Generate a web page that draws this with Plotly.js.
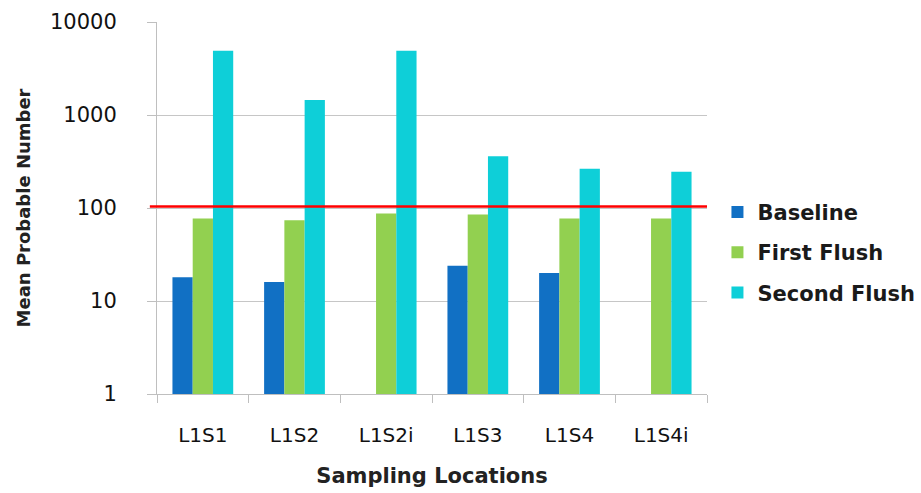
<!DOCTYPE html>
<html>
<head>
<meta charset="utf-8">
<script src="https://cdn.plot.ly/plotly-3.0.1.min.js"></script>
<style>html,body{margin:0;padding:0;background:#fff;}#chart{width:921px;height:493px;}</style>
</head>
<body>
<div id="chart"></div>
<script>
var categories = ["L1S1", "L1S2", "L1S2i", "L1S3", "L1S4", "L1S4i"];
var baseline = [18, 16, null, 24, 20, null];
var firstFlush = [77, 74, 87, 85, 77, 77];
var secondFlush = [4900, 1450, 4900, 360, 265, 245];
var threshold = 104;
var yTickVals = [1, 10, 100, 1000, 10000];
var yTickText = ["1", "10", "100", "1000", "10000"];

var FONT = "DejaVu Sans, Verdana, sans-serif";

function bar(name, vals, color, grp) {
  return {
    type: "bar", name: name, x: categories, y: vals,
    marker: {color: color, line: {width: 0}},
    legendgroup: grp, hoverinfo: "x+y+name"
  };
}

var data = [
  bar("Baseline", baseline, "#1170C4", "a"),
  bar("First Flush", firstFlush, "#92D050", "b"),
  bar("Second Flush", secondFlush, "#0ECFD8", "c")
];

var layout = {
  width: 921, height: 493,
  margin: {l: 157, r: 214, t: 22, b: 99, pad: 0, autoexpand: false},
  paper_bgcolor: "#ffffff", plot_bgcolor: "#ffffff",
  barmode: "group", bargap: 0.337, bargroupgap: 0,
  font: {family: FONT, color: "#111111", size: 20},
  showlegend: true,
  legend: {
    x: 1.019, xanchor: "left", y: 0.381, yanchor: "middle",
    traceorder: "grouped", tracegroupgap: 10,
    font: {family: FONT, size: 21, color: "#1a1a1a", weight: 600},
    bgcolor: "rgba(0,0,0,0)"
  },
  xaxis: {
    type: "category",
    showline: true, linecolor: "#BFBFBF", linewidth: 1,
    ticks: "outside", tickson: "boundaries", ticklen: 8, tickcolor: "#BFBFBF",
    showgrid: false, zeroline: false,
    tickfont: {family: FONT, size: 20, color: "#111111"},
    ticklabelstandoff: 23,
    automargin: true,
    title: {text: "Sampling Locations", standoff: 22,
            font: {family: FONT, size: 21, color: "#222222", weight: 600}}
  },
  yaxis: {
    type: "log", range: [0, 4],
    tickvals: yTickVals, ticktext: yTickText,
    showline: true, linecolor: "#BFBFBF", linewidth: 1,
    ticks: "outside", ticklen: 9, tickcolor: "#BFBFBF",
    showgrid: true, gridcolor: "#C6C6C6", gridwidth: 1,
    zeroline: false,
    tickfont: {family: FONT, size: 21, color: "#111111"},
    ticklabelstandoff: 26,
    automargin: true,
    title: {text: "Mean Probable Number", standoff: 14,
            font: {family: FONT, size: 18, color: "#222222", weight: 600}}
  },
  shapes: [{
    type: "line", xref: "paper", yref: "y",
    x0: -0.013, x1: 1, y0: threshold, y1: threshold,
    line: {color: "#FF0000", width: 2.5}, layer: "above"
  }]
};

Plotly.newPlot("chart", data, layout, {displayModeBar: false, staticPlot: true});
</script>
</body>
</html>
